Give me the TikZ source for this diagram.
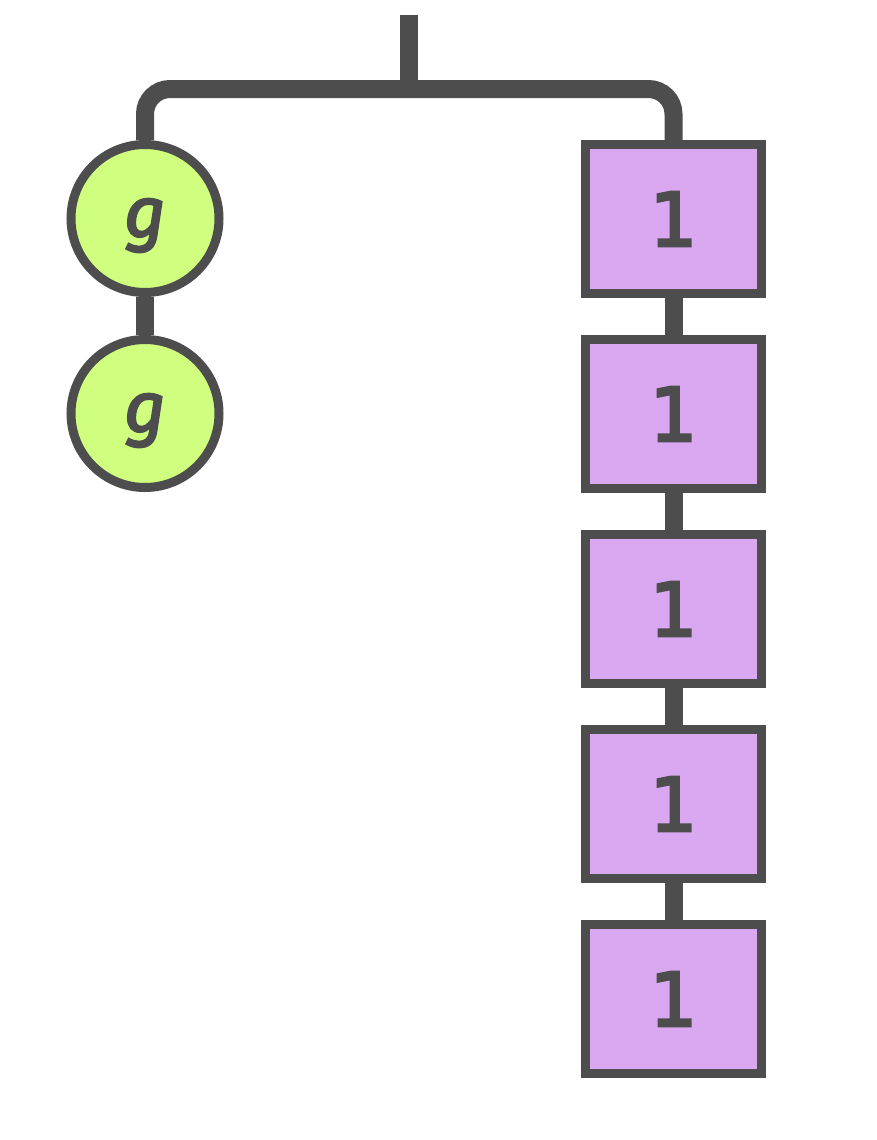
\documentclass[tikz,border=0pt]{standalone}
\usepackage{fontspec}
\setmainfont{DejaVu Sans}
\newfontfamily\gfont[FakeBold=3]{Fira Sans}
\newfontfamily\onefont[FakeBold=4]{DejaVu Sans}
\definecolor{ink}{HTML}{4D4D4D}
\definecolor{lime}{HTML}{D0FF80}
\definecolor{lilac}{HTML}{D9A8F0}
\tikzset{
	link/.style={line width=18pt, draw=ink},
	gnode/.style={circle, draw=ink, line width=9pt, fill=lime, minimum size=148pt, inner sep=0pt, text=ink, text height=37pt, text depth=0pt, font=\gfont\itshape\fontsize{71}{71}\selectfont},
	onebox/.style={rectangle, draw=ink, line width=9pt, fill=lilac, minimum width=176pt, minimum height=149pt, inner sep=0pt, text=ink, font=\onefont\fontsize{74}{74}\selectfont}
}

\begin{document}
\begin{tikzpicture}[x=1pt, y=-1pt]
	\useasboundingbox (0,0) rectangle (877,1140);
	\node[gnode] (g1) at (145,218.5) {g};
	\node[gnode] (g2) at (145,413.5) {g};
	\node[onebox] (b1) at (673.5,219) {1};
	\node[onebox] (b2) at (673.5,414) {1};
	\node[onebox] (b3) at (673.5,609) {1};
	\node[onebox] (b4) at (673.5,804) {1};
	\node[onebox] (b5) at (673.5,999) {1};
	\coordinate (root) at (409,15);
	\coordinate (join) at (409,89);
	\draw[link] (root) -- (join);
	\draw[link, rounded corners=25pt] (g1.north) |- (join) -| (b1.north);
	\draw[link] (g1) -- (g2);
	\draw[link] (b1) -- (b2);
	\draw[link] (b2) -- (b3);
	\draw[link] (b3) -- (b4);
	\draw[link] (b4) -- (b5);
\end{tikzpicture}
\end{document}
